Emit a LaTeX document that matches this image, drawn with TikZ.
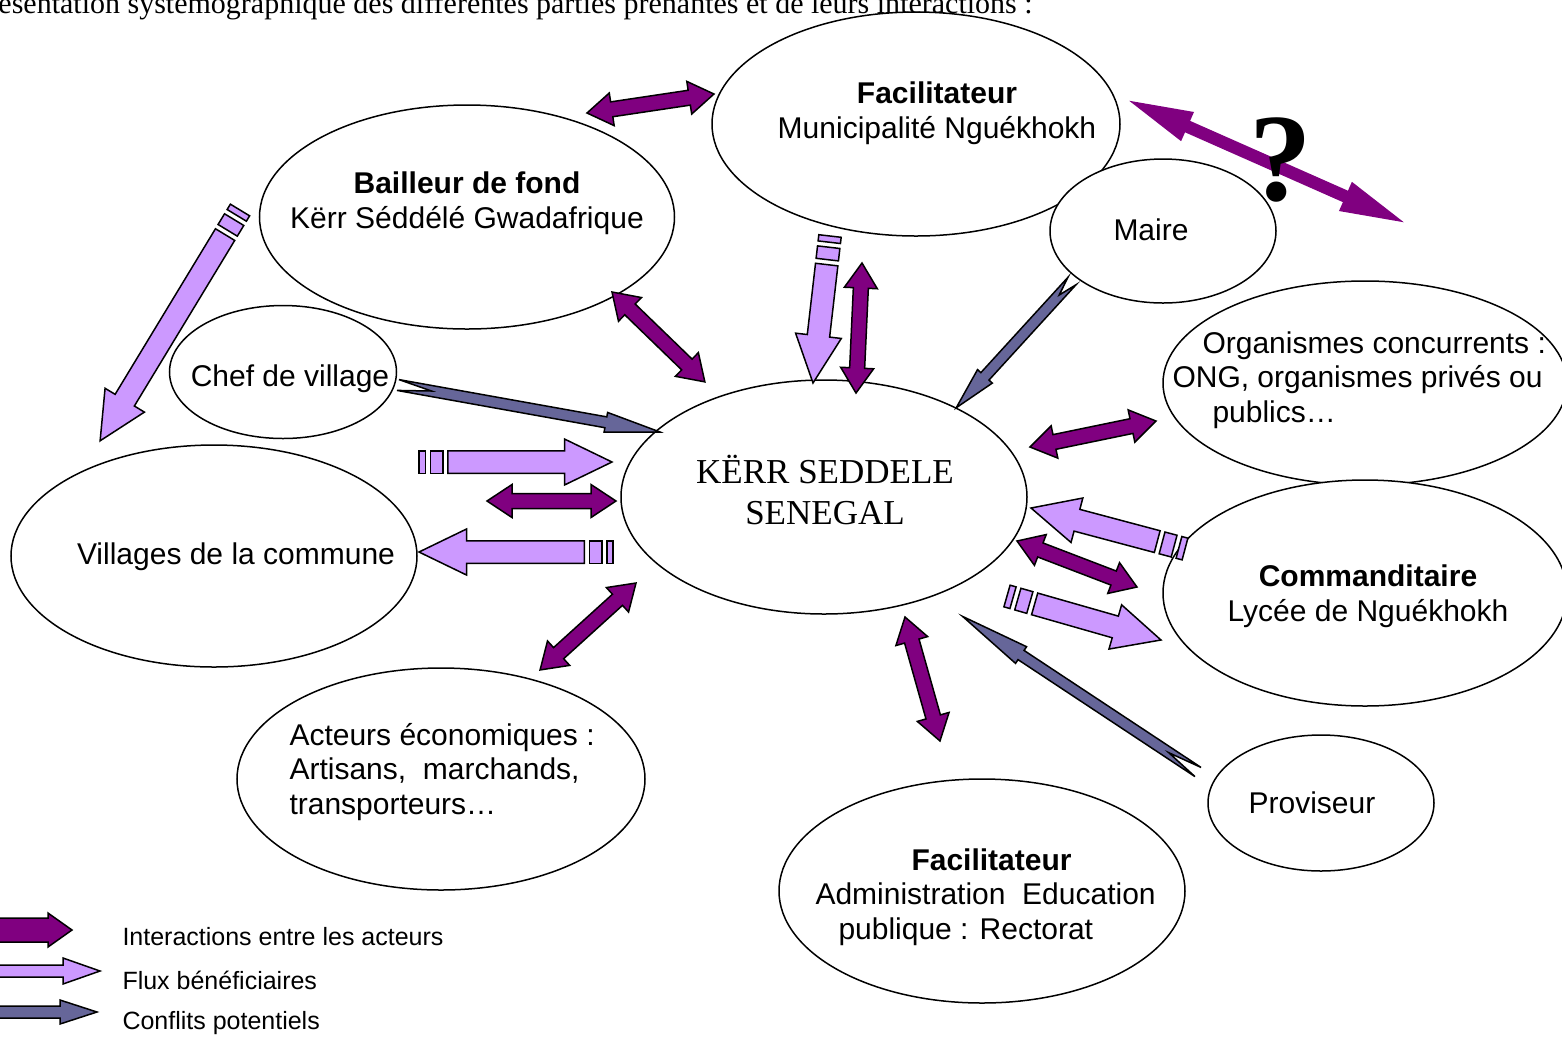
\documentclass[tikz,border=0pt]{standalone}
\usepackage{fontspec}
\setmainfont{Liberation Serif}
\setsansfont{Liberation Sans}
\usetikzlibrary{shapes,          % ellipses
                calc}
\definecolor{violetfonce}{RGB}{128,0,128}
\definecolor{lilas}{RGB}{204,153,255}
\definecolor{ardoise}{RGB}{102,102,153}

% dimensions des fleches (demi-largeur du corps, demi-largeur de la pointe, longueur de la pointe)
\def\sI{3pt}\def\wI{6.6pt}\def\hI{10pt}
\def\sF{4.5pt}\def\wF{9.2pt}\def\hF{19pt}
\def\sC{2.2pt}\def\wC{4pt}

% angle et longueur entre deux points
\newcommand{\axe}[2]{%
  \path (#1); \pgfgetlastxy{\xA}{\yA}%
  \path (#2); \pgfgetlastxy{\xB}{\yB}%
  \pgfmathsetmacro{\angA}{atan2((\yB)-(\yA),(\xB)-(\xA))}%
  \pgfmathsetmacro{\lonA}{veclen((\xB)-(\xA),(\yB)-(\yA))}}

% interaction : fleche double
\newcommand{\inter}[3][]{%
  \axe{#2}{#3}%
  \begin{scope}[shift={(#2)},rotate=\angA]
    \draw[interaction,#1] (0,0)--(\hI,\wI)--(\hI,\sI)--(\lonA pt-\hI,\sI)--(\lonA pt-\hI,\wI)--(\lonA pt,0)
      --(\lonA pt-\hI,-\wI)--(\lonA pt-\hI,-\sI)--(\hI,-\sI)--(\hI,-\wI)--cycle;
  \end{scope}}

% flux beneficiaire : fleche a queue rayee
\newcommand{\flux}[2]{%
  \axe{#1}{#2}%
  \begin{scope}[shift={(#1)},rotate=\angA]
    \draw[benef] (0,-\sF) rectangle (2.5pt,\sF);
    \draw[benef] (4.5pt,-\sF) rectangle (9.5pt,\sF);
    \draw[benef] (11.5pt,\sF)--(\lonA pt-\hF,\sF)--(\lonA pt-\hF,\wF)--(\lonA pt,0)
      --(\lonA pt-\hF,-\wF)--(\lonA pt-\hF,-\sF)--(11.5pt,-\sF)--cycle;
  \end{scope}}

% conflit : fleche a queue fendue (#3 longueur pointe, #4 fente)
\newcommand{\conflit}[4]{%
  \axe{#1}{#2}%
  \begin{scope}[shift={(#1)},rotate=\angA]
    \draw[conflit] (0,\sC)--(\lonA pt-#3,\sC)--(\lonA pt-#3,\wC)--(\lonA pt,0)
      --(\lonA pt-#3,-\wC)--(\lonA pt-#3,-\sC)--(0,-\sC)--(#4,0)--cycle;
  \end{scope}}

\begin{document}
\begin{tikzpicture}[x=0.4pt,y=-0.4pt,
  acteur/.style={draw,fill=white,ellipse,line width=0.6pt,inner sep=0pt},
  txt/.style={font=\sffamily\fontsize{12}{13.8}\selectfont,align=center,inner sep=0pt},
  interaction/.style={draw=black,line width=0.6pt,fill=violetfonce},
  benef/.style={draw=black,line width=0.6pt,fill=lilas},
  conflit/.style={draw=black,line width=0.6pt,fill=ardoise},
  legende/.style={font=\sffamily\fontsize{10}{12}\selectfont,anchor=west,inner sep=0pt}]
\useasboundingbox (0,0) rectangle (1562,1036);
\clip (0,0) rectangle (1562,1036);

\node[anchor=base west,inner sep=0pt,font=\fontsize{12}{14}\selectfont] (titre) at (-2,13)
  {ésentation systémographique des différentes parties prenantes et de leurs interactions :};

% les acteurs
\node[acteur,minimum width=163.2pt,minimum height=89.6pt] (muni) at (916,124) {};
\node[acteur,minimum width=166pt,minimum height=89.6pt] (bail) at (467,217) {};
\node[acteur,minimum width=90.4pt,minimum height=57.6pt] (maire) at (1163,231) {};
\node[acteur,minimum width=90.8pt,minimum height=53.2pt] (chef) at (283,372) {};
\node[acteur,minimum width=162.4pt,minimum height=88.8pt] (vill) at (214,556) {};
\node[acteur,minimum width=162.4pt,minimum height=93.6pt] (kerr) at (824,497) {};
\node[acteur,minimum width=161.6pt,minimum height=81.6pt] (orga) at (1365,383) {};
\node[acteur,minimum width=161.6pt,minimum height=90.4pt] (comm) at (1365,593) {};
\node[acteur,minimum width=163.2pt,minimum height=88.8pt] (acte) at (441,779) {};
\node[acteur,minimum width=90.4pt,minimum height=54.4pt] (prov) at (1321,803) {};
\node[acteur,minimum width=162.4pt,minimum height=89.6pt] (admi) at (982,891) {};

\node[txt] (muni-t) at (937,113) {\textbf{Facilitateur}\\Municipalité Nguékhokh};
\node[txt] (bail-t) at (467,203) {\textbf{Bailleur de fond}\\Kërr Séddélé Gwadafrique};
\node[txt] (maire-t) at (1151,230) {Maire};
\node[txt] (chef-t) at (290,379) {Chef de village};
\node[txt] (vill-t) at (236,557) {Villages de la commune};
\node[align=center,inner sep=0pt,font=\fontsize{14}{16.5}\selectfont] (kerr-t) at (825,490) {KËRR SEDDELE\\SENEGAL};
\node[txt,align=left,anchor=west] (orga-t) at (1172,380) {\hspace*{12pt}Organismes concurrents :\\ONG, organismes privés ou\\\hspace*{16pt}publics…};
\node[txt] (comm-t) at (1368,596) {\textbf{Commanditaire}\\Lycée de Nguékhokh};
\node[txt,align=left,anchor=west] (acte-t) at (289,772) {Acteurs économiques :\\Artisans,\ \ marchands,\\transporteurs…};
\node[txt] (prov-t) at (1312,803) {Proviseur};
\node[txt,align=left,anchor=west] (admi-t) at (815,897) {\hspace*{38.4pt}\textbf{Facilitateur}\\Administration\ \ Education\\\hspace*{9.2pt}publique : Rectorat};

% extremites des fleches
\coordinate (i1a) at (587,113); \coordinate (i1b) at (714,94);
\coordinate (i2a) at (612,292); \coordinate (i2b) at (705,382);
\coordinate (i3a) at (862,263); \coordinate (i3b) at (856,393);
\coordinate (i4a) at (487,501); \coordinate (i4b) at (616,501);
\coordinate (i5a) at (1030,447); \coordinate (i5b) at (1156,421);
\coordinate (i6a) at (1017,541); \coordinate (i6b) at (1137,587);
\coordinate (i7a) at (636,583); \coordinate (i7b) at (540,670);
\coordinate (i8a) at (905,617); \coordinate (i8b) at (940,741);
\coordinate (qa) at (1132,102); \coordinate (qb) at (1401,221);
\coordinate (f1a) at (240,210); \coordinate (f1b) at (100,441);
\coordinate (f2a) at (830,236); \coordinate (f2b) at (813,383);
\coordinate (f3a) at (419,462); \coordinate (f3b) at (612,462);
\coordinate (f4a) at (613,552); \coordinate (f4b) at (419,552);
\coordinate (f5a) at (1185,549); \coordinate (f5b) at (1031,508);
\coordinate (f6a) at (1007,596); \coordinate (f6b) at (1161,640);
\coordinate (c1a) at (398,385); \coordinate (c1b) at (660,432);
\coordinate (c2a) at (1072,281); \coordinate (c2b) at (956,408);
\coordinate (c3a) at (1198,772); \coordinate (c3b) at (962,616);

% interactions
\inter{i1a}{i1b} \inter{i2a}{i2b} \inter{i3a}{i3b} \inter{i4a}{i4b}
\inter{i5a}{i5b} \inter{i6a}{i6b} \inter{i7a}{i7b} \inter{i8a}{i8b}
{\def\sI{2.2pt}\def\wI{6pt}\def\hI{24pt}\inter[draw=violetfonce]{qa}{qb}}
\node[inner sep=0pt,font=\bfseries\fontsize{50}{50}\selectfont] (qm) at (1281,160) {?};

% flux beneficiaires
\flux{f1a}{f1b} \flux{f2a}{f2b} \flux{f3a}{f3b}
\flux{f4a}{f4b} \flux{f5a}{f5b} \flux{f6a}{f6b}

% conflits potentiels
\conflit{c1a}{c1b}{22pt}{13.6pt}
\conflit{c2a}{c2b}{17pt}{7.6pt}
\conflit{c3a}{c3b}{28pt}{14pt}

% legende
\draw[interaction] (-10,918)--(48,918)--(48,913)--(72,930)--(48,947)--(48,942)--(-10,942)--cycle;
\draw[benef] (-10,965)--(63,965)--(63,958)--(100,971)--(63,984)--(63,977)--(-10,977)--cycle;
\draw[conflit] (-10,1006)--(60,1006)--(60,1000)--(97,1012)--(60,1024)--(60,1018)--(-10,1018)--cycle;
\node[legende] (lg1) at (122,937) {Interactions entre les acteurs};
\node[legende] (lg2) at (122,980) {Flux bénéficiaires};
\node[legende] (lg3) at (122,1023) {Conflits potentiels};
\end{tikzpicture}
\end{document}
